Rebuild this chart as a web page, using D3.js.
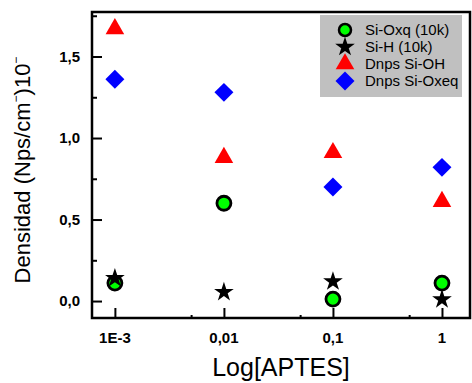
<!DOCTYPE html>
<html>
<head>
<meta charset="utf-8">
<script src="https://cdn.jsdelivr.net/npm/d3@7"></script>
<style>
  body { margin: 0; background: #fff; }
  svg { font-family: Arial, "Liberation Sans", sans-serif; }
</style>
</head>
<body>
<div id="chart"></div>
<script>
// concentrations (APTES) and their tick labels
var conc = [0.001, 0.01, 0.1, 1];
var concLabels = ["1E-3", "0,01", "0,1", "1"];
var minorConc = [0.005, 0.05, 0.5];

// series values
var siOxq = [0.11, 0.60, 0.012, 0.11];
var siH = [0.14, 0.055, 0.12, 0.01];
var dnpsSiOH = [1.67, 0.88, 0.91, 0.61];
var dnpsSiOxeq = [1.36, 1.28, 0.70, 0.82];

var yTicks = [0, 0.5, 1.0, 1.5];
var yMinor = [0.25, 0.75, 1.25, 1.75];

function init() {
    var w = 472, h = 383;
    var pLeft = 92, pRight = 470, pTop = 12, pBottom = 318;

    var svg = d3.select("#chart").append("svg")
        .attr("width", w)
        .attr("height", h);

    var xScale = d3.scaleLog()
        .domain([Math.pow(10, -3.21), Math.pow(10, 0.257)])
        .range([pLeft, pRight]);

    var yScale = d3.scaleLinear()
        .domain([-0.104, 1.773])
        .range([pBottom, pTop]);

    var fmt = function(d) { return d3.format(".1f")(d).replace(".", ","); };

    // minor ticks (inward)
    svg.append("g")
        .attr("transform", "translate(0," + pBottom + ")")
        .call(d3.axisTop(xScale).tickValues(minorConc).tickSize(3).tickFormat(""))
        .call(function(g) { g.select(".domain").remove(); })
        .selectAll("line").attr("stroke-width", 2);

    svg.append("g")
        .attr("transform", "translate(" + pLeft + ",0)")
        .call(d3.axisRight(yScale).tickValues(yMinor).tickSize(5).tickFormat(""))
        .call(function(g) { g.select(".domain").remove(); })
        .selectAll("line").attr("stroke-width", 2);

    // major ticks (inward)
    var xAxis = svg.append("g")
        .attr("transform", "translate(0," + pBottom + ")")
        .call(d3.axisTop(xScale).tickValues(conc).tickSize(10).tickFormat(""));
    xAxis.select(".domain").remove();
    xAxis.selectAll("line").attr("stroke-width", 2);

    var yAxis = svg.append("g")
        .attr("transform", "translate(" + pLeft + ",0)")
        .call(d3.axisRight(yScale).tickValues(yTicks).tickSize(10).tickFormat(""));
    yAxis.select(".domain").remove();
    yAxis.selectAll("line").attr("stroke-width", 2);

    // tick labels
    svg.selectAll(".xlab")
        .data(conc)
        .enter().append("text")
        .attr("class", "xlab")
        .attr("x", function(d) { return xScale(d); })
        .attr("y", 343)
        .attr("text-anchor", "middle")
        .attr("font-size", "15px")
        .attr("font-weight", "bold")
        .text(function(d, i) { return concLabels[i]; });

    svg.selectAll(".ylab")
        .data(yTicks)
        .enter().append("text")
        .attr("class", "ylab")
        .attr("x", 80)
        .attr("y", function(d) { return yScale(d) + 5; })
        .attr("text-anchor", "end")
        .attr("font-size", "15px")
        .attr("font-weight", "bold")
        .text(fmt);

    // frame
    svg.append("rect")
        .attr("x", pLeft)
        .attr("y", pTop)
        .attr("width", pRight - pLeft)
        .attr("height", pBottom - pTop)
        .attr("fill", "none")
        .attr("stroke", "black")
        .attr("stroke-width", 2.5);

    // axis titles
    svg.append("text")
        .attr("x", 281)
        .attr("y", 376)
        .attr("text-anchor", "middle")
        .attr("font-size", "25px")
        .text("Log[APTES]");

    var yTitle = svg.append("text")
        .attr("transform", "translate(30,170) rotate(-90)")
        .attr("text-anchor", "middle")
        .attr("font-size", "22px");
    yTitle.append("tspan").text("Densidad (Nps/cm");
    yTitle.append("tspan").attr("font-size", "12px").attr("dy", -10).text("\u2212");
    yTitle.append("tspan").attr("dy", 10).text(")10");
    yTitle.append("tspan").attr("font-size", "12px").attr("dy", -10).text("\u2212");

    // symbols
    var starPath = d3.symbol().type(d3.symbolStar).size(120)();
    var triPath = d3.symbol().type(d3.symbolTriangle).size(150)();
    var diaPath = d3.symbol().type(d3.symbolSquare).size(180)();

    var plot = svg.append("g");

    plot.selectAll(".oxq")
        .data(siOxq)
        .enter().append("circle")
        .attr("class", "oxq")
        .attr("cx", function(d, i) { return xScale(conc[i]); })
        .attr("cy", function(d) { return yScale(d); })
        .attr("r", 7)
        .attr("fill", "#00ff00")
        .attr("stroke", "black")
        .attr("stroke-width", 2.8);

    plot.selectAll(".sih")
        .data(siH)
        .enter().append("path")
        .attr("class", "sih")
        .attr("d", starPath)
        .attr("transform", function(d, i) { return "translate(" + xScale(conc[i]) + "," + yScale(d) + ")"; })
        .attr("fill", "black");

    plot.selectAll(".sioh")
        .data(dnpsSiOH)
        .enter().append("path")
        .attr("class", "sioh")
        .attr("d", triPath)
        .attr("transform", function(d, i) { return "translate(" + xScale(conc[i]) + "," + yScale(d) + ")"; })
        .attr("fill", "red");

    plot.selectAll(".oxeq")
        .data(dnpsSiOxeq)
        .enter().append("path")
        .attr("class", "oxeq")
        .attr("d", diaPath)
        .attr("transform", function(d, i) { return "translate(" + xScale(conc[i]) + "," + yScale(d) + ") rotate(45)"; })
        .attr("fill", "blue");

    // legend
    var legend = svg.append("g");
    legend.append("rect")
        .attr("x", 320)
        .attr("y", 15)
        .attr("width", 142)
        .attr("height", 82)
        .attr("fill", "#c0c0c0");

    var legendItems = [
        { label: "Si-Oxq (10k)", kind: "circle" },
        { label: "Si-H (10k)", kind: "star" },
        { label: "Dnps Si-OH", kind: "tri" },
        { label: "Dnps Si-Oxeq", kind: "dia" }
    ];

    legendItems.forEach(function(item, i) {
        var cy = 30 + i * 17;
        var cx = 345;
        if (item.kind === "circle") {
            legend.append("circle").attr("cx", cx).attr("cy", cy).attr("r", 6)
                .attr("fill", "#00ff00").attr("stroke", "black").attr("stroke-width", 2.5);
        } else if (item.kind === "star") {
            legend.append("path").attr("d", starPath)
                .attr("transform", "translate(" + cx + "," + cy + ")").attr("fill", "black");
        } else if (item.kind === "tri") {
            legend.append("path").attr("d", triPath)
                .attr("transform", "translate(" + cx + "," + cy + ")").attr("fill", "red");
        } else {
            legend.append("path").attr("d", diaPath)
                .attr("transform", "translate(" + cx + "," + cy + ") rotate(45)").attr("fill", "blue");
        }
        legend.append("text")
            .attr("x", 365)
            .attr("y", cy + 5)
            .attr("font-size", "15px")
            .text(item.label);
    });
}
window.onload = init;
</script>
</body>
</html>
